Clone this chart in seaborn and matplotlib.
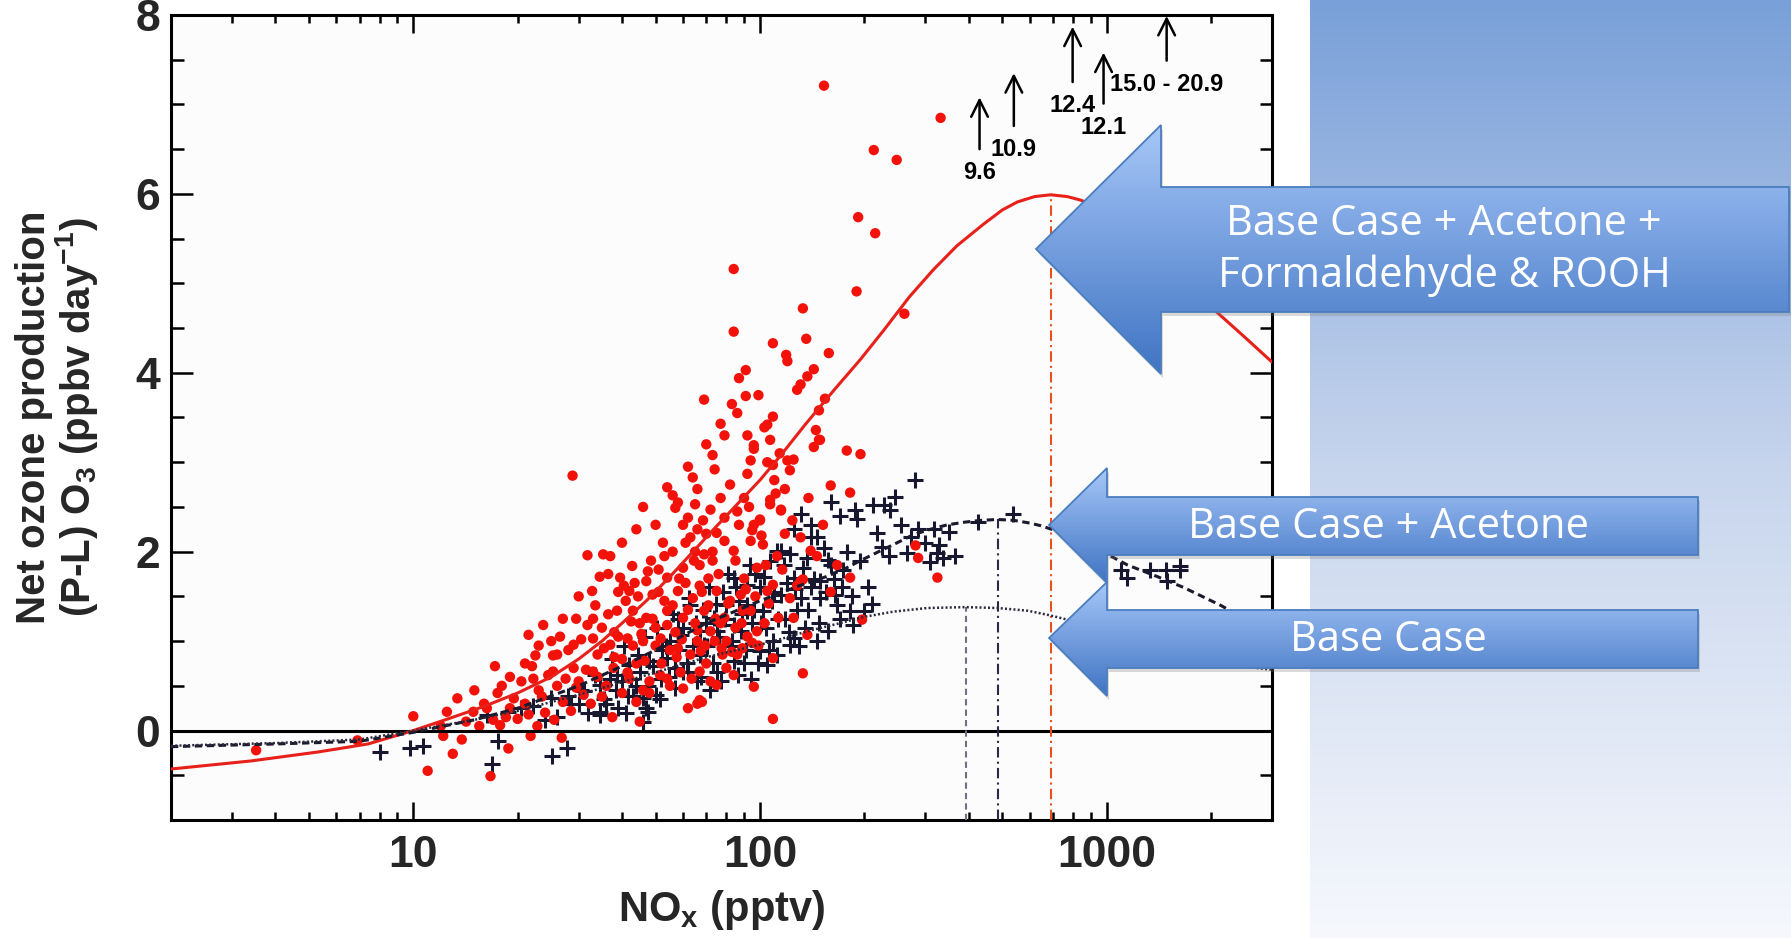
import matplotlib
matplotlib.use("Agg")
import matplotlib.pyplot as plt
import matplotlib.ticker as mticker
from matplotlib.patches import Polygon
import numpy as np
import seaborn as sns

# ---------------------------------------------------------------
# values (NOx in pptv, P-L in ppbv/day)
# ---------------------------------------------------------------

# observations, full chemistry (red dots)
red_nox = [
    153, 332, 213, 248, 192, 215, 84, 190, 261, 133, 84, 136, 109, 158, 119, 120,
    91, 87, 143, 137, 131, 128, 69, 83, 91, 154, 148, 77, 109, 105, 145, 107,
    96, 148, 143, 178, 195, 73, 28.8, 64, 96, 92, 105, 120, 103, 149, 94, 109,
    125, 122, 160, 182, 107, 100, 115, 95, 131, 140, 167, 182, 281, 286, 325, 133,
    113, 137, 133, 197, 122, 105, 89, 98, 67.5, 80, 67, 67, 62,
    56, 57, 65, 72, 62, 66, 79, 96, 100, 107, 115, 75, 63, 84, 69, 94, 102,
    31.8, 35.3, 42.8, 51, 39.5, 47, 54, 60, 67, 73,
    32.8, 42, 49, 58, 64, 75, 88, 109, 131,
    23.7, 31.8, 21.5, 38.7, 43, 47, 54, 60, 69, 79, 94, 125,
    22.5, 25.3, 29, 33, 37, 41.5, 46, 51.7, 58, 66, 72, 80, 89, 109, 96, 66, 68, 45, 109,
    17.5, 19.5, 22.2, 25.3, 29, 33, 37.8, 42, 48, 54, 60, 75, 84,
    13.4, 12.5, 14.9, 16.3, 10, 12.2, 13, 11.0, 16.7, 21.8, 17.8, 20,
    3.52, 6.9,
    18.5, 21, 23, 24, 26, 27, 28, 30, 31, 34, 35, 36, 38, 40, 41, 44, 45, 46,
    50, 52, 53, 55, 57, 59, 61, 63, 65, 68, 70, 71, 74, 77, 78, 82, 85, 86,
    90, 92, 97, 99, 103, 104, 112, 118, 26.5, 29.5, 33.5, 36.5, 39, 43.5, 48.5,
    52.5, 56, 60, 65, 70, 77, 82, 86, 90, 110, 114, 118,
    15.5, 16, 17, 18, 19, 20.5, 21.5, 22, 23.5, 24.5, 25.5, 26, 27.5, 28.5, 29.5, 30.5,
    31.5, 32.5, 33, 34, 35, 35.5, 36.5, 37.5, 38, 39, 40, 40.5, 41.5, 42.5, 43, 44,
    44.5, 45.5, 46.5, 47.5, 48, 49, 50, 51, 51.5, 53, 54, 55, 56, 57.5, 58.5, 59.5,
    61, 62, 63.5, 64.5, 66, 67, 68.5, 69.5, 71, 72, 73, 74.5, 76, 77.5, 79, 81,
    83, 85, 87, 88.5, 91, 93, 95, 98, 101, 106, 111, 116, 124, 128, 138, 146,
    152, 160, 30, 27, 25, 23, 21, 19, 34.5, 37, 40, 44, 46, 50, 54, 58,
    62, 66, 70, 74, 79, 86, 92, 99, 17.2, 14.2, 15, 13.8, 12, 18.8, 22.8, 26.8,
]
red_po3 = [
    7.21, 6.85, 6.49, 6.38, 5.74, 5.56, 5.16, 4.91, 4.66, 4.72, 4.46, 4.38, 4.33, 4.22, 4.20, 4.13,
    4.03, 3.94, 4.04, 3.96, 3.87, 3.81, 3.70, 3.65, 3.74, 3.71, 3.58, 3.43, 3.51, 3.42, 3.36, 3.25,
    3.19, 3.25, 3.17, 3.13, 3.09, 3.08, 2.85, 2.83, 3.15, 2.87, 3.00, 3.02, 3.39, 3.25, 3.02, 2.97,
    3.03, 2.91, 2.74, 2.66, 2.53, 2.35, 2.46, 2.24, 2.16, 2.01, 1.85, 1.71, 2.07, 1.93, 1.71, 1.69,
    1.26, 1.07, 0.64, 1.24, 1.48, 1.56, 1.34, 1.11, 0.89, 0.70, 0.66, 0.34, 0.25,
    2.63, 2.49, 2.53, 2.47, 2.38, 2.25, 2.38, 2.30, 2.36, 2.58, 2.47, 2.21, 2.16, 2.01, 1.97, 2.12, 2.08,
    1.96, 1.97, 1.84, 1.80, 1.71, 1.67, 1.71, 1.82, 1.85, 1.90,
    1.56, 1.56, 1.52, 1.56, 1.48, 1.56, 1.52, 1.63, 1.67,
    1.18, 1.18, 1.07, 1.34, 1.34, 1.26, 1.34, 1.26, 1.34, 1.26, 1.34, 1.26,
    0.84, 0.84, 0.96, 1.03, 0.96, 1.03, 1.00, 1.03, 0.92, 1.00, 1.11, 1.00, 0.92, 0.81, 0.49, 0.30, 0.32, 0.10, 0.13,
    0.42, 0.36, 0.58, 0.66, 0.70, 0.66, 0.70, 0.58, 0.55, 0.58, 0.47, 0.51, 0.62,
    0.36, 0.21, 0.21, 0.25, 0.16, -0.06, -0.26, -0.45, -0.51, -0.06, 0.06, 0.13,
    -0.22, -0.11,
    0.15, 0.30, 0.45, 0.20, 0.50, 0.32, 0.90, 0.55, 0.40, 0.85, 1.15, 0.50, 1.10, 0.80, 1.45, 0.75, 1.20, 0.45,
    1.15, 0.75, 1.45, 0.90, 1.10, 0.65, 1.65, 0.85, 1.20, 1.55, 0.75, 1.70, 1.00, 1.20, 0.85, 1.45, 1.15, 0.85,
    1.70, 1.05, 1.50, 0.95, 1.20, 1.85, 1.95, 2.20, 1.05, 1.25, 1.40, 1.75, 1.55, 1.65, 1.90,
    2.10, 2.00, 2.30, 2.00, 2.20, 2.60, 2.75, 2.45, 2.60, 2.80, 3.10, 2.70,
    0.05, 0.30, 0.12, 0.50, 0.25, 0.55, 0.18, 0.72, 0.38, 0.62, 0.12, 0.85, 0.58, 0.22, 0.48, 1.02,
    0.68, 0.30, 1.25, 0.60, 0.38, 0.92, 1.30, 0.15, 0.82, 1.05, 0.42, 1.62, 0.65, 1.22, 0.95, 0.32,
    1.50, 1.08, 0.78, 1.78, 0.42, 1.25, 0.95, 1.55, 0.62, 1.95, 1.18, 0.50, 1.40, 0.82, 1.70, 1.02,
    2.10, 1.35, 0.58, 1.90, 1.12, 1.62, 2.35, 0.95, 1.40, 0.55, 2.00, 1.25, 1.75, 0.92, 2.12, 1.42,
    0.88, 1.90, 2.30, 1.20, 1.58, 2.50, 0.98, 1.82, 2.18, 1.42, 2.65, 1.80, 2.35, 1.62, 2.60, 1.95,
    2.30, 1.55, 1.50, 1.25, 1.00, 0.95, 0.75, 0.60, 1.72, 1.95, 2.10, 2.25, 2.50, 2.30, 2.72, 2.55,
    2.95, 2.70, 3.20, 2.92, 3.30, 3.55, 3.30, 3.75, 0.72, 0.10, 0.45, -0.10, 0.05, -0.20, 0.05, -0.08,
]

# observations, base chemistry (black crosses)
cross_nox = [
    281, 131, 188, 212, 228, 246, 238, 191, 218, 286, 318, 272, 328, 266, 338, 425,
    536, 146, 153, 157, 195, 174, 137, 122, 112, 107, 125, 149, 84, 92, 100, 115,
    131, 149, 167, 182, 199, 186, 157, 146, 125, 109, 92, 102, 80, 73.5, 88, 100,
    84, 69, 62, 51.7, 54, 46, 41.5, 37, 34.6, 47.5, 27.8, 325,
    115, 140, 92, 84, 75, 67, 59, 122, 67, 48, 42, 60, 75, 94, 105, 38.7,
    34.6, 31, 28, 25, 22.2, 20.4, 18.7, 16.3, 47, 46, 34.6, 43, 17.5, 16.9, 25.2,
    9.8, 10.7, 8.0,
    1148, 1100, 1336, 1480, 1630, 1490, 1630,
    55, 58, 63, 66, 70, 72, 78, 82, 87, 90, 95, 97, 104, 108, 112, 118, 120, 128,
    135, 140, 163, 170, 36, 40, 44, 50, 52, 57, 45, 30, 24, 39,
    26, 28.5, 30.5, 32, 33.5, 35.5, 37.5, 38.5, 40.5, 41, 42.5, 44.5, 46.5, 47.5, 49, 50.5,
    51.5, 53.5, 54.5, 56, 57, 58.5, 60, 61.5, 62.5, 64, 65.5, 67.5, 68.5, 70.5, 71.5, 73,
    74.5, 76, 77, 79.5, 81, 83, 85.5, 86.5, 89, 91, 93.5, 96, 98.5, 101, 103, 106,
    110, 113, 117, 121, 126, 130, 133, 138, 143, 148, 155, 160, 165, 172, 178, 184,
    205, 210, 225, 235, 255, 300, 310, 350, 365, 170, 160, 140, 125,
]
cross_po3 = [
    2.80, 2.42, 2.47, 2.52, 2.52, 2.61, 2.47, 2.36, 2.21, 2.25, 2.25, 2.16, 2.08, 1.99, 1.93, 2.33,
    2.42, 2.16, 2.04, 1.91, 1.90, 1.80, 1.93, 1.97, 2.01, 1.90, 1.71, 1.67, 1.71, 1.63, 1.60, 1.52,
    1.48, 1.48, 1.40, 1.34, 1.34, 1.18, 1.11, 1.00, 1.03, 1.00, 1.34, 1.34, 1.40, 1.26, 1.11, 0.89,
    0.78, 0.96, 0.66, 0.58, 0.81, 0.36, 0.39, 0.58, 0.21, 0.21, -0.20, 1.99,
    2.01, 2.16, 1.40, 1.18, 1.11, 1.11, 1.07, 0.96, 0.84, 0.78, 0.73, 0.66, 0.66, 0.58, 0.73, 0.62,
    0.51, 0.44, 0.39, 0.36, 0.28, 0.25, 0.21, 0.17, 0.25, 0.10, 0.17, 0.39, -0.12, -0.37, -0.29,
    -0.20, -0.17, -0.24,
    1.71, 1.79, 1.80, 1.79, 1.79, 1.67, 1.84,
    1.00, 1.25, 1.40, 0.55, 1.20, 0.45, 1.55, 0.95, 1.45, 0.75, 1.20, 1.75, 1.15, 1.45, 0.85, 1.25, 1.65, 1.35,
    1.15, 1.60, 1.70, 1.25, 0.30, 0.55, 0.50, 0.40, 0.90, 0.70, 0.65, 0.30, 0.12, 0.25,
    0.15, 0.30, 0.45, 0.20, 0.62, 0.35, 0.80, 0.45, 0.95, 0.20, 0.58, 0.85, 1.05, 0.50, 0.72, 1.15,
    0.35, 0.95, 0.60, 1.30, 0.48, 0.90, 1.15, 0.75, 1.48, 0.95, 1.20, 0.60, 1.35, 0.95, 1.60, 0.75,
    1.42, 1.05, 0.55, 1.25, 1.75, 1.00, 1.60, 0.62, 1.30, 0.90, 1.85, 1.35, 0.75, 1.20, 1.72, 0.90,
    1.55, 1.25, 1.85, 1.10, 1.58, 0.95, 1.82, 1.35, 1.70, 1.20, 1.55, 1.85, 1.52, 1.60, 2.00, 1.50,
    1.60, 1.42, 2.05, 1.95, 2.30, 2.10, 1.88, 2.22, 1.95, 2.40, 2.55, 2.30, 2.25,
]

# model curves
full_nox = [2.0, 3.4, 5.3, 7.4, 10, 12.8, 16, 20, 25, 30, 35, 40, 47, 55, 73.5, 100,
            115, 135, 163, 195, 227, 270, 316, 370, 441, 500, 553, 620, 690, 770,
            842, 1000, 1260, 1585, 2036, 2500, 3000]
full_po3 = [-0.43, -0.34, -0.24, -0.15, 0.0, 0.14, 0.27, 0.42, 0.60, 0.80, 1.00, 1.20, 1.45, 1.72, 2.25, 2.80,
            3.08, 3.42, 3.80, 4.15, 4.47, 4.85, 5.15, 5.42, 5.66, 5.82, 5.91, 5.97, 5.99, 5.97,
            5.93, 5.82, 5.58, 5.22, 4.71, 4.40, 4.12]

acetone_nox = [2.0, 4, 7, 10, 15, 20, 30, 40, 50, 70, 100, 130, 155, 174, 195, 220, 243,
               277, 310, 347, 390, 433, 485, 540, 600, 646, 720, 800, 900, 1006, 1150,
               1403, 1667, 2133, 3000]
acetone_po3 = [-0.18, -0.15, -0.12, -0.02, 0.12, 0.25, 0.50, 0.72, 0.90, 1.20, 1.45, 1.62, 1.72, 1.80, 1.90, 2.00, 2.08,
               2.19, 2.25, 2.30, 2.33, 2.35, 2.36, 2.35, 2.32, 2.29, 2.23, 2.15, 2.06, 1.97, 1.85,
               1.72, 1.60, 1.40, 1.08]

base_nox = [2.0, 4, 7, 10, 15, 20, 30, 40, 50, 70, 105, 140, 170, 199, 243, 304, 392, 485,
            592, 683, 771, 880, 1000, 1150, 1300, 1500, 1700, 2000, 2323, 3000]
base_po3 = [-0.17, -0.14, -0.10, 0.0, 0.12, 0.22, 0.40, 0.54, 0.65, 0.82, 0.98, 1.12, 1.20, 1.27, 1.33, 1.37, 1.38, 1.37,
            1.34, 1.29, 1.24, 1.18, 1.11, 1.04, 0.97, 0.90, 0.84, 0.78, 0.73, 0.68]

# NOx at the P-L maximum of each model run: base, +acetone, +acetone+HCHO/ROOH
peak_nox = [392, 485, 693]
peak_po3 = [1.38, 2.36, 5.99]

# points above the plotted range
offscale_nox = [430, 540, 798, 980, 1490]
offscale_tail = [6.50, 6.76, 7.25, 7.01, 7.49]
offscale_tip = [7.08, 7.35, 7.87, 7.58, 7.99]
offscale_labels = ["9.6", "10.9", "12.4", "12.1", "15.0 - 20.9"]

callout_labels = ["Base Case + Acetone +\nFormaldehyde & ROOH",
                  "Base Case + Acetone",
                  "Base Case"]

# ---------------------------------------------------------------
W, H = 1791, 938
sns.set_theme(style="ticks")
plt.rcParams["font.family"] = ["Liberation Sans", "DejaVu Sans"]
plt.rcParams["mathtext.default"] = "regular"

fig = plt.figure(figsize=(W / 100, H / 100), dpi=100, facecolor="white")

# slide background on the right
bg = fig.add_axes([1310 / W, 0, 1 - 1310 / W, 1], zorder=-5)
t = np.linspace(0, 1, 400)[:, None]
top_c = np.array([0.475, 0.627, 0.851])
mid_c = np.array([0.780, 0.835, 0.929])
bot_c = np.array([0.965, 0.973, 0.992])
w1 = np.clip(t / 0.5, 0, 1)[..., None]
w2 = np.clip((t - 0.5) / 0.5, 0, 1)[..., None]
grad = np.where(t[..., None] < 0.5, top_c + (mid_c - top_c) * w1, mid_c + (bot_c - mid_c) * w2)
bg.imshow(grad, aspect="auto", extent=(0, 1, 0, 1), origin="upper")
bg.set_axis_off()

# scanned chart
ax = fig.add_axes([171 / W, 1 - 820 / H, (1272 - 171) / W, (820 - 15) / H])
ax.set_facecolor("#fcfcfc")

sns.scatterplot(x=cross_nox, y=cross_po3, ax=ax, color="#17172f", marker="+",
                s=120, linewidth=2.2, zorder=3)
sns.scatterplot(x=red_nox, y=red_po3, ax=ax, color="#f2120a", s=56,
                edgecolor="none", linewidth=0, zorder=4)

ax.axhline(0, color="black", lw=2.2, zorder=5)

sns.lineplot(x=full_nox, y=full_po3, ax=ax, color="#e8201a", linewidth=2.2,
             sort=False, estimator=None, zorder=6)
sns.lineplot(x=acetone_nox, y=acetone_po3, ax=ax, color="#1a1a2e", linewidth=2.2,
             linestyle=(0, (2.4, 1.5)), sort=False, estimator=None, zorder=6)
sns.lineplot(x=base_nox, y=base_po3, ax=ax, color="#2a2a3c", linewidth=1.8,
             linestyle=(0, (0.8, 0.9)), sort=False, estimator=None, zorder=6)

vstyles = [("#6f6f85", (0, (3, 2))), ("#2a2a45", (0, (5, 2, 1, 2))), ("#e8501e", (0, (5, 2, 1, 2)))]
for xv, yv, (col, ls) in zip(peak_nox, peak_po3, vstyles):
    ax.plot([xv, xv], [-1, yv], color=col, lw=1.5, linestyle=ls, zorder=5)

for xv, y0, y1, lab in zip(offscale_nox, offscale_tail, offscale_tip, offscale_labels):
    ax.annotate("", xy=(xv, y1), xytext=(xv, y0), annotation_clip=False,
                arrowprops=dict(arrowstyle="->", lw=1.8, color="black",
                                mutation_scale=30, shrinkA=0, shrinkB=0))
    ax.annotate(lab, xy=(xv, y0), xytext=(0, -17), textcoords="offset points",
                ha="center", va="center", fontsize=17, fontweight="bold", color="black")

ax.set_xscale("log")
ax.set_xlim(2, 3000)
ax.set_ylim(-1, 8)
ax.set_xticks([10, 100, 1000], labels=["10", "100", "1000"])
ax.xaxis.set_minor_locator(mticker.LogLocator(base=10, subs=np.arange(2, 10)))
ax.xaxis.set_minor_formatter(mticker.NullFormatter())
ax.set_yticks([0, 2, 4, 6, 8])
ax.yaxis.set_minor_locator(mticker.MultipleLocator(0.5))

ax.tick_params(which="both", direction="in", top=True, right=True, width=1.8, color="black")
ax.tick_params(axis="x", which="major", length=13, pad=11, labelsize=32)
ax.tick_params(axis="x", which="minor", length=6)
ax.tick_params(axis="y", which="major", length=16, pad=8, labelsize=32)
ax.tick_params(axis="y", which="minor", length=9)
for lab in ax.get_xticklabels() + ax.get_yticklabels():
    lab.set_fontweight("bold")
for sp in ax.spines.values():
    sp.set_linewidth(2.2)
    sp.set_color("black")

ax.set_xlabel("NO$_x$ (pptv)", fontsize=30, fontweight="bold")
ax.xaxis.label.set_va("center")
ax.xaxis.set_label_coords(0.5, -0.112)
ax.set_ylabel("Net ozone production\n(P-L) O$_3$ (ppbv day$^{-1}$)", fontsize=29,
              fontweight="bold", linespacing=1.0)
ax.yaxis.label.set_va("center")
ax.yaxis.set_label_coords(-0.103, 0.5)

# call-out arrows of the slide
ov = fig.add_axes([0, 0, 1, 1], zorder=10)
ov.set_axis_off()
ov.patch.set_alpha(0)

# (tip x, tip y, neck x, head top, head bottom, body top, body bottom, right end)
shapes = [
    (1036, 249, 1161, 125, 374, 187, 312, 1789),
    (1049, 525, 1107, 468, 583, 497, 555, 1698),
    (1049, 638, 1107, 582, 696, 610, 668, 1698),
]
text_pos = [(1444, 250), (1388, 527), (1388, 640)]

for (tx, ty, nx, ht, hb, bt, bb, rx), lab, (lx, ly) in zip(shapes, callout_labels, text_pos):
    pts = [(tx, ty), (nx, ht), (nx, bt), (rx, bt), (rx, bb), (nx, bb), (nx, hb)]
    shadow = Polygon([(x + 2, y + 4) for x, y in pts], closed=True,
                     facecolor="#7a7a7a", edgecolor="none", alpha=0.28)
    ov.add_patch(shadow)
    poly = Polygon(pts, closed=True, facecolor="none", edgecolor="none")
    ov.add_patch(poly)
    g = np.linspace(0, 1, 256)[:, None, None]
    c0 = np.array([0.655, 0.780, 0.973])
    c1 = np.array([0.250, 0.455, 0.765])
    img = np.repeat(c0 + (c1 - c0) * g, 2, axis=1)
    im = ov.imshow(img, extent=(tx, rx, hb, ht), origin="upper", aspect="auto", zorder=2)
    im.set_clip_path(poly)
    ov.add_patch(Polygon(pts, closed=True, facecolor="none", edgecolor="#4a7ebf", lw=1.3, zorder=3))
    ov.text(lx, ly, lab, ha="center", va="center", color="white", fontsize=30,
            family=["Open Sans", "DejaVu Sans"], linespacing=1.28, zorder=4)

ov.set_xlim(0, W)
ov.set_ylim(H, 0)

fig.savefig("out.png", dpi=100, facecolor="white")
